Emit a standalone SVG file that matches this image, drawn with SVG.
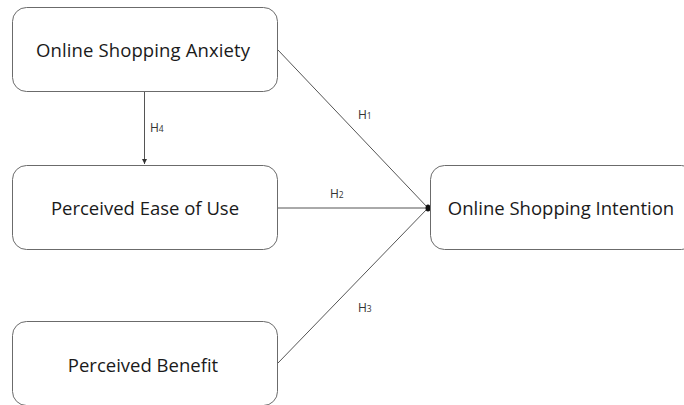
<svg xmlns="http://www.w3.org/2000/svg" width="684" height="405" viewBox="0 0 684 405">
<style>
.box{fill:#fff;stroke:#6b6b6b;stroke-width:1}
.t{font-family:"Open Sans","Liberation Sans",sans-serif;font-size:18.5px;fill:#1a1a1a;text-anchor:middle}
.lbl{font-family:"Open Sans","Liberation Sans",sans-serif;font-size:12px;fill:#333}
.sub{font-size:8.5px}
.c{stroke:#555;stroke-width:1;fill:none}
</style>
<defs>
<marker id="ah" markerWidth="6" markerHeight="6" refX="5" refY="3" orient="auto" markerUnits="userSpaceOnUse">
<path d="M0,0.5 L5,3 L0,5.5 Z" fill="#333"/>
</marker>
</defs>
<g id="connectors">
<line class="c" x1="144.5" y1="92" x2="144.5" y2="164" marker-end="url(#ah)"/>
<line class="c" x1="278" y1="50" x2="428" y2="208"/>
<line class="c" x1="278" y1="208" x2="428" y2="208"/>
<line class="c" x1="278" y1="363" x2="428" y2="208"/>
<ellipse cx="428" cy="208" rx="2.5" ry="3.5" fill="#111"/>
<text class="lbl" x="150" y="132">H<tspan class="sub">4</tspan></text>
<text class="lbl" x="358" y="119">H<tspan class="sub">1</tspan></text>
<text class="lbl" x="330" y="198">H<tspan class="sub">2</tspan></text>
<text class="lbl" x="358" y="312">H<tspan class="sub">3</tspan></text>
</g>
<g id="anxiety">
<rect class="box" x="12.5" y="7.5" width="265" height="84" rx="14"/>
<text class="t" x="143" y="57" textLength="214">Online Shopping Anxiety</text>
</g>
<g id="ease">
<rect class="box" x="12.5" y="165.5" width="265" height="84" rx="14"/>
<text class="t" x="145" y="215">Perceived Ease of Use</text>
</g>
<g id="benefit">
<rect class="box" x="12.5" y="321.5" width="265" height="84" rx="14"/>
<text class="t" x="143" y="372">Perceived Benefit</text>
</g>
<g id="intention">
<rect class="box" x="430.5" y="165.5" width="265" height="84" rx="14"/>
<text class="t" x="561" y="215">Online Shopping Intention</text>
</g>
</svg>
